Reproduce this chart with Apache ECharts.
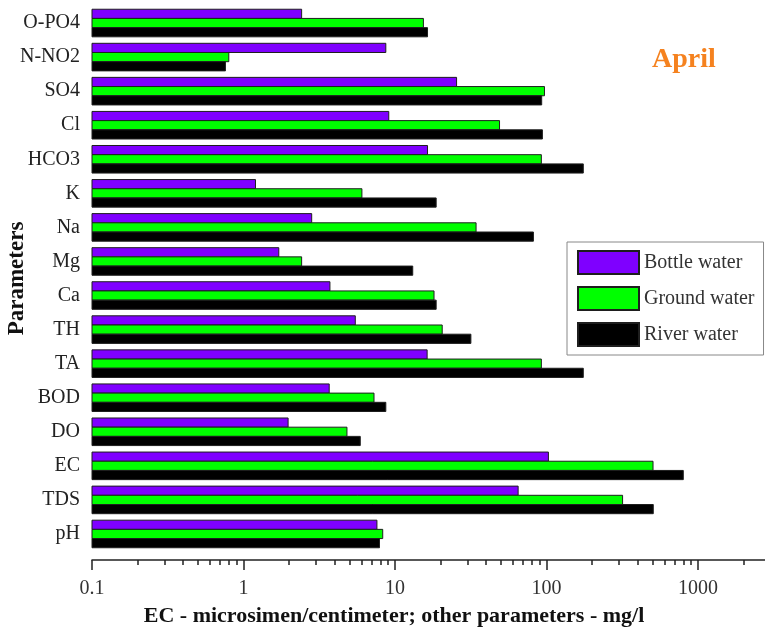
<!DOCTYPE html>
<html>
<head>
<meta charset="utf-8">
<title>April water quality parameters</title>
<script src="https://cdn.jsdelivr.net/npm/echarts@6/dist/echarts.min.js"></script>
<style>
  html, body { margin: 0; padding: 0; background: #ffffff; }
  #chart { width: 765px; height: 640px; }
</style>
</head>
<body>
<div id="chart"></div>
<script>
// Parameters, listed from the bottom of the chart to the top
const categories = ['pH', 'TDS', 'EC', 'DO', 'BOD', 'TA', 'TH', 'Ca', 'Mg', 'Na', 'K', 'HCO3', 'Cl', 'SO4', 'N-NO2', 'O-PO4'];

// Measured values (EC in microsiemens/cm, other parameters in mg/l)
const bottleWater = [7.6, 65, 103, 1.97, 3.68, 16.3, 5.47, 3.72, 1.71, 2.82, 1.2, 16.4, 9.1, 25.5, 8.7, 2.42];
const groundWater = [8.3, 318, 505, 4.82, 7.27, 92.5, 20.5, 18.1, 2.42, 34.3, 6.05, 92.5, 49, 97, 0.8, 15.4];
const riverWater  = [7.9, 507, 800, 5.9, 8.7, 175, 31.7, 18.7, 13.1, 82, 18.7, 175, 94, 93, 0.76, 16.4];

// Log axis ticks
const axisMin = 0.1;
const axisMax = 2770;
const majorTicks = [0.1, 1, 10, 100, 1000];
const minorTicks = [0.2, 0.3, 0.4, 0.5, 0.6, 0.7, 0.8, 0.9,
                    2, 3, 4, 5, 6, 7, 8, 9,
                    20, 30, 40, 50, 60, 70, 80, 90,
                    200, 300, 400, 500, 600, 700, 800, 900, 2000];

const serif = '"Liberation Serif", "DejaVu Serif", serif';

const seriesDefs = [
  { name: 'Bottle water', values: bottleWater, color: '#7f00ff' },
  { name: 'Ground water', values: groundWater, color: '#00ff00' },
  { name: 'River water',  values: riverWater,  color: '#000000' }
];

// Horizontal bars on a log axis, drawn from the axis minimum.
// slot 0 is the top bar of each group.
function barRenderer(slot) {
  return function (params, api) {
    const cat = api.value(0);
    const val = api.value(1);
    const base = api.coord([axisMin, cat]);
    const tip = api.coord([val, cat]);
    const next = api.coord([axisMin, cat + 1]);
    const band = Math.abs(base[1] - next[1]);
    const barH = band * 0.27;
    const y = base[1] - 1.5 * barH + slot * barH;
    return {
      type: 'rect',
      shape: { x: base[0], y: y, width: tip[0] - base[0], height: barH },
      style: api.style()
    };
  };
}

const series = seriesDefs.map(function (def, slot) {
  return {
    type: 'custom',
    name: def.name,
    xAxisIndex: 0,
    yAxisIndex: 0,
    renderItem: barRenderer(slot),
    encode: { x: 1, y: 0 },
    itemStyle: { color: def.color, borderColor: '#1e1e1e', borderWidth: 1 },
    data: def.values.map(function (v, i) { return [i, v]; })
  };
});

const chart = echarts.init(document.getElementById('chart'), null, { renderer: 'canvas' });

chart.setOption({
  backgroundColor: '#ffffff',
  animation: false,
  grid: { left: 92, right: 0, top: 6, height: 545, containLabel: false, outerBoundsMode: 'none' },
  xAxis: [
    {
      type: 'log',
      logBase: 10,
      min: axisMin,
      max: axisMax,
      position: 'bottom',
      offset: 9,
      axisLine: { show: true, lineStyle: { color: '#222', width: 1.5 } },
      axisTick: { show: true, inside: false, length: 10, customValues: majorTicks, lineStyle: { color: '#222', width: 1.5 } },
      axisLabel: {
        show: true,
        customValues: majorTicks,
        margin: 19,
        fontFamily: serif,
        fontSize: 20,
        color: '#333',
        formatter: function (v) { return String(+v.toPrecision(3)); }
      },
      splitLine: { show: false },
      minorTick: { show: false }
    },
    {
      type: 'log',
      logBase: 10,
      min: axisMin,
      max: axisMax,
      position: 'bottom',
      offset: 9,
      axisLine: { show: false },
      axisTick: { show: true, inside: false, length: 5, customValues: minorTicks, lineStyle: { color: '#222', width: 1.5 } },
      axisLabel: { show: false },
      splitLine: { show: false }
    }
  ],
  yAxis: {
    type: 'category',
    data: categories,
    axisLine: { show: false },
    axisTick: { show: false },
    axisLabel: { fontFamily: serif, fontSize: 20, color: '#222', margin: 12 },
    name: 'Parameters',
    nameLocation: 'middle',
    nameGap: 63,
    nameMoveOverlap: false,
    nameTextStyle: { fontFamily: serif, fontSize: 23, fontWeight: 'bold', color: '#111' }
  },
  legend: {
    orient: 'vertical',
    left: 567,
    top: 242,
    padding: [8, 9, 8, 10],
    borderColor: '#888',
    borderWidth: 1,
    itemWidth: 61,
    itemHeight: 23,
    itemGap: 11,
    icon: 'rect',
    textStyle: { fontFamily: serif, fontSize: 20, color: '#333' },
    data: seriesDefs.map(function (d) { return d.name; })
  },
  graphic: [
    {
      type: 'text',
      left: 652,
      top: 46,
      style: { text: 'April', fontFamily: serif, fontSize: 28, fontWeight: 'bold', fill: '#f5821f' }
    },
    {
      type: 'text',
      x: 394,
      y: 616,
      style: {
        text: 'EC - microsimen/centimeter; other parameters - mg/l',
        fontFamily: serif, fontSize: 22, fontWeight: 'bold', fill: '#111',
        align: 'center', verticalAlign: 'middle'
      }
    }
  ],
  series: series
});
</script>
</body>
</html>
